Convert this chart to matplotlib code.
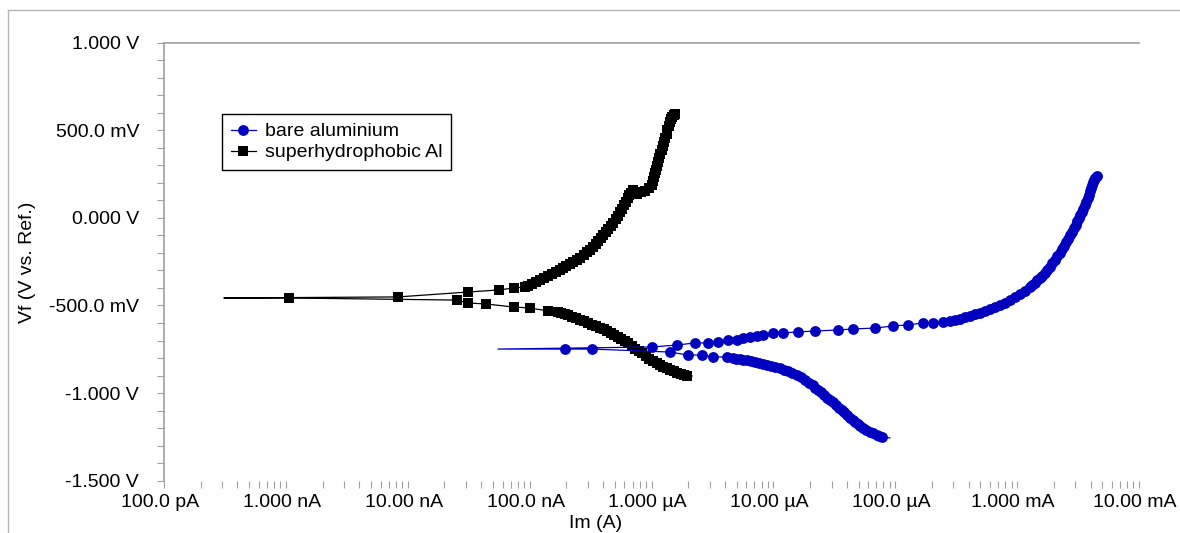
import matplotlib
matplotlib.use("Agg")
import matplotlib.pyplot as plt
import numpy as np
from matplotlib.lines import Line2D
from matplotlib.ticker import LogLocator, MultipleLocator, NullFormatter
import matplotlib.transforms as mtransforms

plt.rcParams['font.family'] = ['Liberation Sans', 'DejaVu Sans']

# ---------------- data ----------------
series_labels = ['bare aluminium', 'superhydrophobic Al']

# bare aluminium: scan from cathodic end to anodic end (current in A, potential in V)
bare_current = [
    9.03e-5, 7.76e-5, 7.40e-5, 7.06e-5, 6.61e-5, 6.19e-5, 5.80e-5, 5.42e-5, 5.17e-5, 4.93e-5,
    4.71e-5, 4.49e-5, 4.24e-5, 4.01e-5, 3.82e-5, 3.65e-5, 3.45e-5, 3.26e-5, 3.08e-5, 2.91e-5,
    2.75e-5, 2.60e-5, 2.45e-5, 2.32e-5, 2.21e-5, 2.11e-5, 1.96e-5, 1.81e-5, 1.68e-5, 1.56e-5,
    1.43e-5, 1.31e-5, 1.22e-5, 1.13e-5, 1.04e-5, 9.54e-6, 8.84e-6, 8.20e-6, 7.60e-6, 7.05e-6,
    6.54e-6, 6.06e-6, 5.67e-6, 5.31e-6, 4.97e-6, 4.65e-6, 4.16e-6, 3.19e-6, 2.59e-6, 1.99e-6,
    1.42e-6, 3.24e-7, 1.95e-7, 5.50e-8, 1.01e-6, 1.61e-6, 2.27e-6, 2.90e-6, 3.51e-6, 4.24e-6,
    5.02e-6, 5.62e-6, 6.41e-6, 7.33e-6, 8.20e-6, 9.91e-6, 1.20e-5, 1.59e-5, 2.19e-5, 3.38e-5,
    4.49e-5, 6.81e-5, 9.55e-5, 1.27e-4, 1.68e-4, 2.04e-4, 2.46e-4, 2.81e-4, 3.08e-4, 3.39e-4,
    3.72e-4, 4.09e-4, 4.50e-4, 4.94e-4, 5.43e-4, 5.97e-4, 6.56e-4, 7.21e-4, 7.93e-4, 8.71e-4,
    9.57e-4, 1.05e-3, 1.16e-3, 1.27e-3, 1.33e-3, 1.40e-3, 1.46e-3, 1.53e-3, 1.61e-3, 1.69e-3,
    1.77e-3, 1.85e-3, 1.95e-3, 2.04e-3, 2.14e-3, 2.24e-3, 2.33e-3, 2.42e-3, 2.51e-3, 2.61e-3,
    2.71e-3, 2.81e-3, 2.92e-3, 3.03e-3, 3.12e-3, 3.21e-3, 3.30e-3, 3.40e-3, 3.49e-3, 3.59e-3,
    3.70e-3, 3.80e-3, 3.87e-3, 3.94e-3, 4.02e-3, 4.10e-3, 4.18e-3, 4.26e-3, 4.38e-3, 4.51e-3,
]
bare_potential = [
    -1.257, -1.251, -1.246, -1.240, -1.231, -1.223, -1.211, -1.200, -1.189, -1.177,
    -1.166, -1.154, -1.140, -1.126, -1.111, -1.097, -1.083, -1.069, -1.054, -1.040,
    -1.026, -1.011, -0.997, -0.983, -0.969, -0.954, -0.940, -0.926, -0.911, -0.897,
    -0.886, -0.874, -0.866, -0.857, -0.851, -0.846, -0.840, -0.834, -0.829, -0.823,
    -0.817, -0.811, -0.809, -0.806, -0.803, -0.800, -0.794, -0.794, -0.783, -0.783,
    -0.766, -0.749, -0.749, -0.749, -0.737, -0.726, -0.714, -0.714, -0.709, -0.697,
    -0.697, -0.686, -0.680, -0.674, -0.669, -0.657, -0.657, -0.651, -0.646, -0.640,
    -0.634, -0.629, -0.617, -0.611, -0.600, -0.600, -0.594, -0.589, -0.583, -0.577,
    -0.566, -0.560, -0.549, -0.543, -0.531, -0.520, -0.509, -0.497, -0.486, -0.469,
    -0.451, -0.434, -0.417, -0.394, -0.383, -0.371, -0.357, -0.343, -0.329, -0.314,
    -0.297, -0.280, -0.260, -0.240, -0.220, -0.200, -0.180, -0.160, -0.140, -0.120,
    -0.100, -0.080, -0.060, -0.040, -0.020, 0.000, 0.017, 0.034, 0.054, 0.074,
    0.094, 0.114, 0.134, 0.154, 0.171, 0.189, 0.203, 0.217, 0.231, 0.240,
]

# superhydrophobic Al: scan from cathodic end to anodic end
shp_current = [
    2.15e-6, 1.95e-6, 1.85e-6, 1.74e-6, 1.63e-6, 1.53e-6, 1.43e-6, 1.34e-6, 1.25e-6, 1.17e-6,
    1.10e-6, 1.03e-6, 9.61e-7, 9.00e-7, 8.42e-7, 7.88e-7, 7.38e-7, 6.91e-7, 6.46e-7, 6.05e-7,
    5.66e-7, 5.30e-7, 4.96e-7, 4.64e-7, 4.35e-7, 4.07e-7, 3.77e-7, 3.50e-7, 3.24e-7, 3.01e-7,
    2.79e-7, 2.59e-7, 2.40e-7, 2.22e-7, 2.08e-7, 1.95e-7, 1.82e-7, 1.71e-7, 1.41e-7, 1.00e-7,
    7.43e-8, 4.38e-8, 3.12e-8, 2.54e-8, 1.06e-9, 3.10e-10, 8.32e-9, 3.12e-8, 5.60e-8, 7.43e-8,
    9.15e-8, 9.77e-8, 1.04e-7, 1.13e-7, 1.21e-7, 1.31e-7, 1.41e-7, 1.52e-7, 1.64e-7, 1.76e-7,
    1.88e-7, 2.00e-7, 2.14e-7, 2.29e-7, 2.44e-7, 2.61e-7, 2.79e-7, 2.95e-7, 3.12e-7, 3.31e-7,
    3.50e-7, 3.67e-7, 3.85e-7, 4.03e-7, 4.23e-7, 4.43e-7, 4.64e-7, 4.87e-7, 5.10e-7, 5.30e-7,
    5.51e-7, 5.72e-7, 5.94e-7, 6.17e-7, 6.40e-7, 6.59e-7, 6.78e-7, 7.04e-7, 7.59e-7, 8.18e-7,
    8.83e-7, 9.52e-7, 1.01e-6, 1.03e-6, 1.05e-6, 1.07e-6, 1.09e-6, 1.11e-6, 1.14e-6, 1.16e-6,
    1.18e-6, 1.21e-6, 1.24e-6, 1.26e-6, 1.29e-6, 1.33e-6, 1.35e-6, 1.38e-6, 1.42e-6, 1.44e-6,
    1.48e-6, 1.53e-6, 1.56e-6,
]
shp_potential = [
    -0.903, -0.903, -0.897, -0.891, -0.883, -0.874, -0.866, -0.857, -0.849, -0.840,
    -0.829, -0.817, -0.803, -0.789, -0.774, -0.760, -0.746, -0.731, -0.717, -0.703,
    -0.691, -0.680, -0.669, -0.657, -0.646, -0.634, -0.626, -0.617, -0.609, -0.600,
    -0.591, -0.583, -0.574, -0.566, -0.557, -0.549, -0.543, -0.537, -0.531, -0.514,
    -0.509, -0.491, -0.486, -0.469, -0.457, -0.457, -0.451, -0.423, -0.411, -0.400,
    -0.394, -0.386, -0.377, -0.366, -0.354, -0.343, -0.331, -0.320, -0.309, -0.297,
    -0.286, -0.274, -0.263, -0.251, -0.240, -0.226, -0.211, -0.197, -0.183, -0.166,
    -0.149, -0.131, -0.114, -0.097, -0.080, -0.063, -0.046, -0.026, -0.006, 0.014,
    0.034, 0.054, 0.074, 0.094, 0.114, 0.129, 0.143, 0.160, 0.137, 0.149,
    0.157, 0.169, 0.189, 0.211, 0.234, 0.257, 0.277, 0.297, 0.320, 0.343,
    0.366, 0.389, 0.411, 0.434, 0.457, 0.480, 0.503, 0.526, 0.549, 0.566,
    0.577, 0.586, 0.594,
]

x_tick_values = [1e-10, 1e-9, 1e-8, 1e-7, 1e-6, 1e-5, 1e-4, 1e-3, 1e-2]
x_tick_labels = ['100.0 pA', '1.000 nA', '10.00 nA', '100.0 nA', '1.000 µA',
                 '10.00 µA', '100.0 µA', '1.000 mA', '10.00 mA']
y_tick_values = [1.0, 0.5, 0.0, -0.5, -1.0, -1.5]
y_tick_labels = ['1.000 V', '500.0 mV', '0.000 V', '-500.0 mV', '-1.000 V', '-1.500 V']
x_label = 'Im (A)'
y_label = 'Vf (V vs. Ref.)'

assert len(bare_current) == len(bare_potential)
assert len(shp_current) == len(shp_potential)

# ---------------- figure ----------------
W, H = 1180, 533
fig = plt.figure(figsize=(W / 100, H / 100), dpi=100)
ax = fig.add_axes([164 / W, 1 - 480.5 / H, (1139 - 164) / W, (480.5 - 43) / H])

BLUE = '#0000C0'
GRAY = '#a0a0a0'


def marker_mask(cur):
    # the first sample and the lowest-current sample are drawn without a marker
    cur = np.asarray(cur)
    m = np.ones(len(cur), dtype=bool)
    m[0] = False
    m[int(np.argmin(cur))] = False
    return list(m)


l_shp, = ax.plot(shp_current, shp_potential, color='black', lw=0.9, marker='s',
                 markersize=7.0, markeredgewidth=0, markerfacecolor='black',
                 markevery=marker_mask(shp_current), zorder=2, label=series_labels[1])
l_bare, = ax.plot(bare_current, bare_potential, color=BLUE, lw=0.9, marker='o',
                  markersize=7.8, markeredgewidth=0, markerfacecolor=BLUE,
                  markevery=marker_mask(bare_current), zorder=3, label=series_labels[0])

ax.set_xscale('log')
ax.set_xlim(1e-10, 1e-2)
ax.set_ylim(-1.5, 1.0)
ax.set_xticks(x_tick_values, x_tick_labels)
ax.xaxis.set_minor_locator(LogLocator(base=10, subs=np.arange(2, 10)))
ax.xaxis.set_minor_formatter(NullFormatter())
ax.set_yticks(y_tick_values, y_tick_labels)
ax.yaxis.set_minor_locator(MultipleLocator(0.1))

ax.tick_params(axis='both', which='both', direction='out', length=5, width=0.8,
               color=GRAY, labelsize=14, labelcolor='black')
ax.tick_params(axis='x', which='both', pad=5)
ax.tick_params(axis='y', which='both', pad=13)

offset = mtransforms.ScaledTranslation(-4 / 100, 0, fig.dpi_scale_trans)
for lab in ax.get_xticklabels():
    lab.set_transform(lab.get_transform() + offset)

for side in ['bottom', 'right']:
    ax.spines[side].set_visible(False)
for side in ['top', 'left']:
    ax.spines[side].set_color(GRAY)
    ax.spines[side].set_linewidth(1.2)

fig.text(596 / W, 1 - 523 / H, x_label, ha='center', va='center', fontsize=14)
fig.text(28 / W, 1 - 262 / H, y_label, ha='center', va='center', rotation=90, fontsize=14)

leg = ax.legend(handles=[l_bare, l_shp], loc='upper left',
                bbox_to_anchor=(222 / W, 1 - 114 / H), bbox_transform=fig.transFigure,
                borderaxespad=0, fontsize=14, frameon=True, fancybox=False,
                framealpha=1, edgecolor='black', handlelength=1.3, handletextpad=0.45,
                borderpad=0.45, labelspacing=0.18, numpoints=1)
leg.get_frame().set_linewidth(1.0)

# outer frame lines
fig.add_artist(Line2D([8 / W, 8 / W], [0, 1 - 10 / H], transform=fig.transFigure,
                      color='#b4b4b4', lw=1))
fig.add_artist(Line2D([8 / W, 1], [1 - 10 / H, 1 - 10 / H], transform=fig.transFigure,
                      color='#b4b4b4', lw=1))

fig.savefig('out.png', dpi=100)
